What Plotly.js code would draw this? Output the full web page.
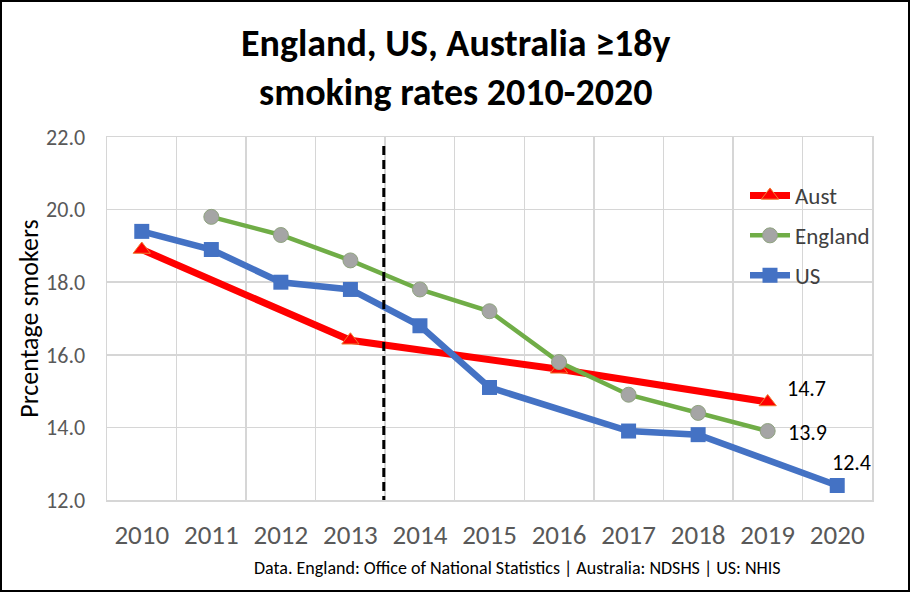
<!DOCTYPE html>
<html>
<head>
<meta charset="utf-8">
<script src="https://cdn.plot.ly/plotly-3.0.1.min.js"></script>
<style>
  html, body { margin: 0; padding: 0; background: #fff; }
  #wrap { position: relative; width: 910px; height: 592px; }
  #chart { width: 910px; height: 592px; }
  #frame { position: absolute; left: 0; top: 0; width: 906px; height: 588px; border: 2px solid #000; pointer-events: none; }
</style>
</head>
<body>
<div id="wrap"><div id="chart"></div><div id="frame"></div></div>
<script>
// ---- data ----
const years = [2010, 2011, 2012, 2013, 2014, 2015, 2016, 2017, 2018, 2019, 2020];
const yearLabels = ["2010", "2011", "2012", "2013", "2014", "2015", "2016", "2017", "2018", "2019", "2020"];

const austYears = [2010, 2013, 2016, 2019];
const austValues = [18.9, 16.4, 15.6, 14.7];

const englandYears = [2011, 2012, 2013, 2014, 2015, 2016, 2017, 2018, 2019];
const englandValues = [19.8, 19.3, 18.6, 17.8, 17.2, 15.8, 14.9, 14.4, 13.9];

const usYears = [2010, 2011, 2012, 2013, 2014, 2015, 2017, 2018, 2020];
const usValues = [19.4, 18.9, 18.0, 17.8, 16.8, 15.1, 13.9, 13.8, 12.4];

const seriesNames = ["Aust", "England", "US"];
const titleLines = ["England, US, Australia ≥18y", "smoking rates 2010-2020"];
const sourceNote = "Data. England: Office of National Statistics | Australia: NDSHS | US: NHIS";
const yTitle = "Prcentage smokers";
const dividerYear = 2013.48;
const yMin = 12, yMax = 22;

const FONT = "Carlito, Lato, 'Open Sans', sans-serif";

const traces = [
  {
    x: austYears, y: austValues, name: seriesNames[0], legendgroup: "a",
    mode: "lines+markers", type: "scatter",
    line: { color: "#FF0000", width: 7 },
    marker: { symbol: "triangle-up", size: 15, color: "#FF0000", line: { color: "#ED7D31", width: 1 } }
  },
  {
    x: englandYears, y: englandValues, name: seriesNames[1], legendgroup: "e",
    mode: "lines+markers", type: "scatter",
    line: { color: "#70AD47", width: 4.5 },
    marker: { symbol: "circle", size: 15, color: "#A5A5A5", line: { color: "#8FA37F", width: 1 } }
  },
  {
    x: usYears, y: usValues, name: seriesNames[2], legendgroup: "u",
    mode: "lines+markers", type: "scatter",
    line: { color: "#4472C4", width: 6.5 },
    marker: { symbol: "square", size: 15, color: "#4472C4" }
  }
];

const lastOf = a => a[a.length - 1];
const labelFont = { family: FONT, size: 22, color: "#000000" };
const GRID = "#D6D6D6";

const layout = {
  width: 910, height: 592,
  paper_bgcolor: "#FFFFFF", plot_bgcolor: "#FFFFFF",
  margin: { l: 107, r: 38, t: 137, b: 92 },
  font: { family: FONT, color: "#404040" },
  xaxis: {
    range: [years[0] - 0.5, lastOf(years) + 0.5],
    tickmode: "linear", tick0: years[0], dtick: 1,
    tickvals: years, ticktext: yearLabels,
    showgrid: false, zeroline: false,
    showline: true, mirror: true, linecolor: GRID, linewidth: 1.5,
    ticks: "", ticklabelstandoff: 10,
    tickfont: { family: FONT, size: 27, color: "#595959" },
    minor: { tick0: years[0] - 0.5, dtick: 1, showgrid: true, gridcolor: GRID, gridwidth: 1.5, ticks: "" }
  },
  yaxis: {
    range: [yMin, yMax], tickmode: "linear", tick0: yMin, dtick: 2,
    tickformat: ".1f",
    showgrid: true, gridcolor: GRID, gridwidth: 1.5, zeroline: false,
    showline: true, mirror: true, linecolor: GRID, linewidth: 1.5,
    ticks: "", ticklabelstandoff: 16,
    tickfont: { family: FONT, size: 22, color: "#595959" },
    title: { text: yTitle, standoff: 0, font: { family: FONT, size: 26, color: "#000000" } }
  },
  showlegend: true,
  legend: {
    x: (745 - 107) / 765, xanchor: "left",
    y: (500 - 174) / 363, yanchor: "top",
    bgcolor: "rgba(0,0,0,0)", borderwidth: 0,
    tracegroupgap: 7, itemwidth: 40,
    font: { family: FONT, size: 23, color: "#404040" }
  },
  shapes: [
    {
      type: "line", xref: "x", yref: "y",
      x0: dividerYear, x1: dividerYear, y0: yMin - 0.14, y1: yMax - 0.16,
      line: { color: "#000000", width: 3, dash: "9px,5px" }, layer: "above"
    }
  ],
  annotations: [
    {
      x: (456 - 107) / 765, y: (500 - 67) / 363, xref: "paper", yref: "paper",
      text: "<b>" + titleLines.join("<br>") + "</b>", showarrow: false,
      xanchor: "center", yanchor: "middle", align: "center",
      font: { family: FONT, size: 38, color: "#000000" }
    },
    {
      x: lastOf(austYears), y: lastOf(austValues), xref: "x", yref: "y",
      text: lastOf(austValues).toFixed(1), showarrow: false,
      xanchor: "left", yanchor: "middle", xshift: 17, yshift: 13,
      font: labelFont
    },
    {
      x: lastOf(englandYears), y: lastOf(englandValues), xref: "x", yref: "y",
      text: lastOf(englandValues).toFixed(1), showarrow: false,
      xanchor: "left", yanchor: "middle", xshift: 18, yshift: -1,
      font: labelFont
    },
    {
      x: lastOf(usYears), y: lastOf(usValues), xref: "x", yref: "y",
      text: lastOf(usValues).toFixed(1), showarrow: false,
      xanchor: "left", yanchor: "middle", xshift: -7, yshift: 23,
      font: labelFont
    },
    {
      x: (517 - 107) / 765, y: -(568 - 500) / 363, xref: "paper", yref: "paper",
      text: sourceNote,
      showarrow: false, xanchor: "center", yanchor: "middle",
      font: { family: FONT, size: 18, color: "#000000" }
    }
  ]
};

Plotly.newPlot("chart", traces, layout, { displayModeBar: false, staticPlot: true });
</script>
</body>
</html>
